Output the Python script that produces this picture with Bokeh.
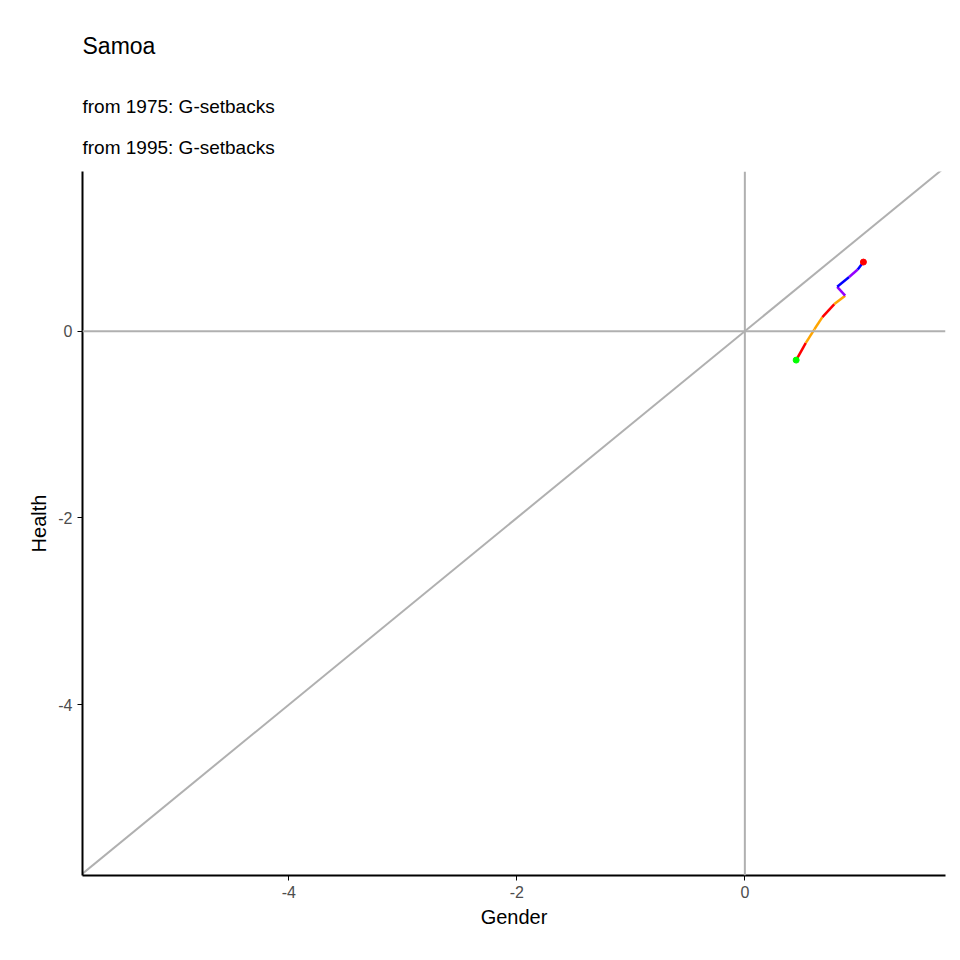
from bokeh.plotting import figure
from bokeh.models import Span, Title, Range1d
from bokeh.embed import file_html
from bokeh.resources import INLINE

# trajectory (Gender, Health)
gx = [0.45, 0.535, 0.61, 0.68, 0.785, 0.88, 0.81, 0.915, 0.99, 1.04]
hy = [-0.31, -0.125, 0.02, 0.15, 0.29, 0.38, 0.475, 0.58, 0.66, 0.74]
seg_colors = ["red", "orange", "orange", "red", "orange", "#9400ff", "blue", "#9400ff", "blue"]
diag = [-5.81, 1.76]
ticks = [-4, -2, 0]
tick_labels = {-4: "-4", -2: "-2", 0: "0"}

p = figure(width=953, height=952, output_backend="svg", toolbar_location=None,
           x_range=Range1d(-5.81, 1.76), y_range=Range1d(-5.83, 1.71),
           min_border_left=82, min_border_right=8, min_border_bottom=77)
p.xgrid.visible = False
p.ygrid.visible = False
p.outline_line_color = None

p.add_layout(Title(text="from 1995:  G-setbacks", text_font="Liberation Sans",
                   text_font_size="19px", text_font_style="normal",
                   text_color="black", standoff=27), "above")
p.add_layout(Title(text="from 1975:  G-setbacks", text_font="Liberation Sans",
                   text_font_size="19px", text_font_style="normal",
                   text_color="black"), "above")
p.add_layout(Title(text="Samoa", text_font="Liberation Sans", text_font_size="23px",
                   text_font_style="normal", text_color="black", standoff=60), "above")

p.add_layout(Span(location=0, dimension="height", line_color="#b0b0b0", line_width=2))
p.add_layout(Span(location=0, dimension="width", line_color="#b0b0b0", line_width=2))
p.line(diag, diag, line_color="#b0b0b0", line_width=2)

xs = [[gx[i], gx[i + 1]] for i in range(len(gx) - 1)]
ys = [[hy[i], hy[i + 1]] for i in range(len(hy) - 1)]
p.multi_line(xs, ys, line_color=seg_colors, line_width=2.5)
p.scatter([gx[0]], [hy[0]], color="#00ff00", size=6)
p.scatter([gx[-1]], [hy[-1]], color="red", size=6)

p.xaxis.axis_label = "Gender"
p.yaxis.axis_label = "Health"
for ax in (p.xaxis[0], p.yaxis[0]):
    ax.ticker = ticks
    ax.major_label_overrides = tick_labels
    ax.axis_label_text_font = "Liberation Sans"
    ax.axis_label_text_font_size = "20px"
    ax.axis_label_text_font_style = "normal"
    ax.axis_label_text_color = "black"
    ax.major_label_text_font = "Liberation Sans"
    ax.major_label_text_font_size = "16px"
    ax.major_label_text_color = "#4d4d4d"
    ax.minor_tick_line_color = None
    ax.axis_line_width = 2
    ax.major_tick_out = 5
    ax.major_tick_in = 0
p.yaxis.major_label_orientation = "horizontal"

open("out.html", "w").write(file_html(p, INLINE))
